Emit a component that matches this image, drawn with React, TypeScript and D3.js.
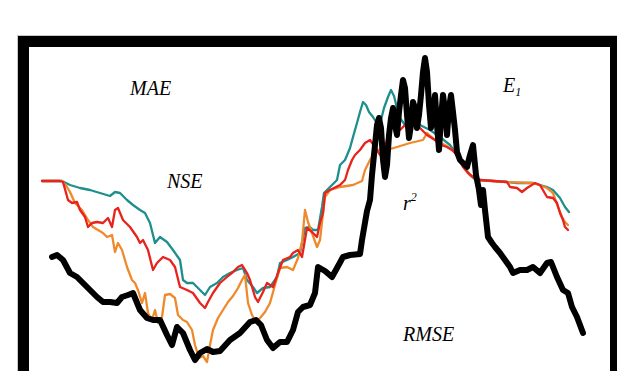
import React from "react";
import * as d3 from "d3";

// x: time step, y: index value
const blackSteps = [12,17,23,30,37,43,50,57,63,70,77,82,88,93,100,107,113,120,127,132,137,143,150,155,160,167,173,180,190,200,210,216,221,227,233,240,247,253,258,263,270,275,278,285,292,297,303,310,320,322,327,330,332,335,337,339,341,343,345,347,349,351,353,355,357,359,361,363,365,367,369,371,373,375,377,379,381,383,385,387,389,391,393,395,397,399,401,403,405,407,409,411,413,415,417,420,423,427,430,433,436,439,441,443,445,448,452,455,460,465,470,473,480,487,493,500,507,511,517,523,528,532,537,543];
const blackValues = [123,125,120,107,103,97,90,83,78,78,77,83,85,87,70,62,60,60,45,35,53,47,30,20,27,31,28,29,40,47,58,60,55,40,32,38,38,50,68,73,75,87,113,109,103,112,123,125,126,140,169,180,205,235,255,262,252,220,203,215,245,262,272,255,245,268,285,300,292,265,242,255,278,272,252,265,285,308,322,308,275,252,268,285,255,230,262,285,270,245,272,285,268,250,228,220,217,213,225,235,205,190,175,190,170,143,137,133,127,120,113,107,110,110,113,107,117,118,103,90,87,73,63,47];

const tealSteps = [2,22,26,30,40,50,60,70,75,80,87,93,100,105,110,115,120,127,133,140,143,147,153,160,165,170,177,183,190,197,203,207,213,217,223,230,237,240,247,253,260,265,270,273,278,282,284,290,297,300,305,310,313,317,320,323,326,329,333,338,341,344,348,351,354,357,360,365,370,380,390,400,410,417,423,430,436,440,467,477,493,500,507,513,520,525,529];
const tealValues = [199,199,197,195,192,190,187,184,188,187,180,175,170,167,157,137,143,138,130,120,100,97,97,90,85,93,97,103,107,110,112,100,93,87,92,93,103,117,120,123,127,152,153,150,150,173,187,193,200,215,220,232,243,257,268,278,275,268,263,255,260,272,283,290,284,272,262,255,260,255,250,243,235,225,215,205,200,200,198,197,197,195,193,190,182,173,168];

const redSteps = [2,20,23,28,32,37,40,45,48,52,57,63,68,72,75,78,83,90,97,100,103,108,113,117,123,130,135,140,147,153,160,165,168,173,180,187,193,198,202,207,210,215,218,223,227,233,238,243,250,253,258,262,267,272,277,280,283,285,290,300,305,308,312,315,320,325,330,335,340,345,350,353,360,365,373,380,387,395,401,407,412,417,423,428,433,440,467,470,477,482,487,495,500,507,513,517,520,523,525,528];
const redValues = [199,199,198,180,177,178,170,163,153,157,158,157,162,153,170,172,160,153,143,137,140,130,110,117,123,120,113,93,90,87,77,72,78,87,97,103,108,113,115,107,100,83,78,88,97,93,107,120,123,127,130,123,152,148,143,157,167,187,190,195,200,210,220,225,230,237,240,233,225,233,252,257,250,255,257,252,245,240,235,233,230,225,213,207,203,200,198,193,192,188,192,197,195,183,182,177,167,160,153,150];

const orangeSteps = [2,22,23,27,30,35,42,48,53,58,63,67,72,75,78,82,87,92,95,98,102,105,108,112,115,118,122,125,130,135,138,143,147,152,155,159,163,167,170,173,178,183,188,193,198,202,205,208,212,216,220,225,230,235,240,247,253,258,262,265,268,272,277,280,283,285,290,300,313,322,325,330,337,347,357,370,383,387,395,405,415,422,430,438,467,493,507,513,518,522,525,528];
const orangeValues = [199,199,198,193,188,177,170,160,153,150,147,143,145,128,137,130,113,100,97,90,77,87,67,60,70,57,63,85,86,82,65,60,58,50,35,22,24,18,35,50,62,70,78,84,92,100,105,77,65,58,62,68,77,95,112,113,110,122,138,170,158,147,133,140,167,183,190,193,195,199,210,220,230,230,233,237,240,247,240,235,228,215,205,200,198,197,192,187,173,163,158,155];

const labels = ["MAE", "NSE", "RMSE"];
const labelSteps = [90, 127, 363];
const labelValues = [285, 192, 39];

const W = 617;
const H = 371;

function zip(xs: number[], ys: number[]): [number, number][] {
  return xs.map((x, i) => [x, ys[i]] as [number, number]);
}

export default function App() {
  const x = d3.scaleLinear().domain([0, 550]).range([40, 590]);
  const y = d3.scaleLinear().domain([0, 340]).range([380, 40]);
  const line = d3
    .line<[number, number]>()
    .x((d) => x(d[0]))
    .y((d) => y(d[1]));

  const series = [
    { data: zip(tealSteps, tealValues), color: "#1e8f8c", w: 2.3 },
    { data: zip(orangeSteps, orangeValues), color: "#ef8a2c", w: 2.3 },
    { data: zip(redSteps, redValues), color: "#e8231c", w: 2.3 },
    { data: zip(blackSteps, blackValues), color: "#000000", w: 6 },
  ];

  const font = "'Liberation Serif', 'Times New Roman', serif";

  return (
    <svg
      width={W}
      height={H}
      style={{ position: "absolute", left: 0, top: 0, background: "#fff" }}
    >
      <rect x={0} y={0} width={W} height={H} fill="#fff" />
      <rect x={17.5} y={35.5} width={620} height={400} fill="none" stroke="#c8c8c8" strokeWidth={1} />
      <rect x={23.5} y={41.5} width={592} height={400} fill="none" stroke="#000" strokeWidth={11} />
      {series.map((s, i) => (
        <path
          key={i}
          d={line(s.data) || ""}
          fill="none"
          stroke={s.color}
          strokeWidth={s.w}
          strokeLinejoin="round"
          strokeLinecap="round"
        />
      ))}
      {labels.map((t, i) => (
        <text
          key={t}
          x={x(labelSteps[i])}
          y={y(labelValues[i])}
          fontFamily={font}
          fontStyle="italic"
          fontSize={20}
          fill="#000"
        >
          {t}
        </text>
      ))}
      <text x={x(463)} y={y(288)} fontFamily={font} fontStyle="italic" fontSize={20} fill="#000">
        E
        <tspan fontSize={12} dy={4}>1</tspan>
      </text>
      <text x={x(363)} y={y(170)} fontFamily={font} fontStyle="italic" fontSize={20} fill="#000">
        r
        <tspan fontSize={12} dy={-9}>2</tspan>
      </text>
    </svg>
  );
}
